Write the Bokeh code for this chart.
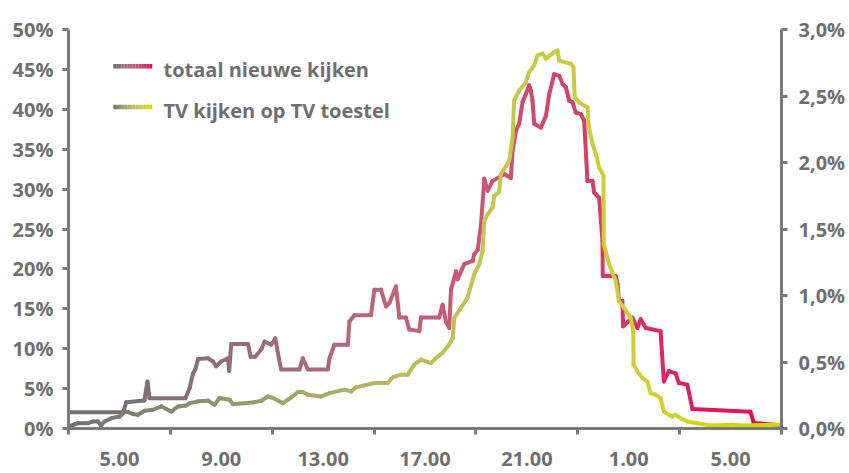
from bokeh.plotting import figure
from bokeh.models import Range1d, LinearAxis, FixedTicker, Label, ColumnDataSource
from bokeh.embed import file_html
from bokeh.resources import INLINE

# ---- data (hours since midnight of day 1; values > 24 belong to the next day) ----
series_names = ["totaal nieuwe kijken", "TV kijken op TV toestel"]

pink_hours = [3.00, 5.15, 5.27, 5.98, 6.10, 6.18, 7.59, 7.76, 7.89, 7.98,
              8.09, 8.48, 8.67, 8.80, 9.00, 9.26, 9.31, 9.39, 10.05, 10.15,
              10.33, 10.57, 10.70, 10.96, 11.12, 11.22, 11.35, 12.07, 12.20, 12.40,
              13.18, 13.25, 13.44, 13.97, 14.03, 14.23, 14.88, 15.01, 15.27, 15.47,
              15.60, 15.86, 15.99, 16.25, 16.38, 16.78, 16.84, 17.56, 17.69, 17.82,
              17.95, 18.02, 18.22, 18.28, 18.54, 18.87, 18.93, 19.07, 19.20, 19.33,
              19.46, 19.65, 20.11, 20.37, 20.44, 20.57, 20.70, 20.83, 20.96, 21.09,
              21.16, 21.22, 21.29, 21.55, 21.75, 21.88, 22.07, 22.27, 22.40, 22.53,
              22.66, 22.79, 22.92, 23.12, 23.25, 23.38, 23.58, 23.64, 23.84, 23.97,
              23.98, 24.49, 24.56, 24.62, 24.75, 24.78, 25.14, 25.34, 25.47, 25.67,
              26.25, 26.38, 26.58, 26.84, 26.97, 27.30, 27.50, 29.78, 29.91, 30.96]
pink_share = [2.05, 2.05, 3.3, 3.5, 5.9, 3.8, 3.8, 5.1, 6.9, 7.4,
              8.7, 8.8, 8.4, 7.8, 8.4, 8.8, 7.2, 10.6, 10.6, 9.0,
              9.0, 9.9, 10.9, 10.5, 11.3, 9.5, 7.4, 7.4, 8.8, 7.4,
              7.4, 8.8, 10.5, 10.5, 13.4, 14.2, 14.2, 17.4, 17.4, 15.3,
              15.7, 17.8, 13.9, 13.9, 12.4, 12.2, 13.9, 13.9, 15.5, 13.4,
              12.6, 17.4, 19.7, 18.7, 20.6, 21.0, 21.8, 22.4, 25.6, 31.3,
              29.8, 31.0, 31.9, 31.4, 34.8, 37.3, 38.2, 40.9, 41.9, 43.0,
              42.3, 41.1, 38.2, 37.7, 39.2, 41.9, 44.4, 44.2, 43.2, 42.8,
              41.1, 40.9, 39.6, 39.4, 38.6, 31.0, 31.0, 29.6, 28.9, 23.5,
              19.1, 19.1, 18.1, 16.0, 16.0, 12.8, 13.9, 12.6, 13.7, 12.6,
              12.2, 5.9, 7.2, 6.9, 5.7, 5.5, 2.45, 2.1, 0.7, 0.4]

yellow_hours = [3.00, 3.38, 3.77, 3.97, 4.16, 4.27, 4.42, 4.69, 5.01, 5.21,
                5.34, 5.54, 5.73, 5.99, 6.32, 6.65, 7.04, 7.30, 7.63, 7.76,
                8.09, 8.48, 8.74, 8.93, 9.33, 9.46, 10.31, 10.57, 10.83, 11.03,
                11.42, 11.75, 12.01, 12.20, 12.40, 12.92, 13.25, 13.84, 14.10, 14.29,
                14.62, 15.01, 15.54, 15.73, 16.06, 16.32, 16.58, 16.84, 17.24, 17.43,
                17.69, 17.95, 18.09, 18.15, 18.41, 18.67, 18.93, 19.13, 19.26, 19.33,
                19.46, 19.65, 19.72, 19.91, 19.98, 20.11, 20.31, 20.44, 20.50, 20.70,
                20.96, 21.09, 21.29, 21.42, 21.62, 21.75, 22.07, 22.20, 22.27, 22.46,
                22.73, 22.83, 22.88, 23.05, 23.25, 23.38, 23.44, 23.58, 23.71, 23.84,
                24.01, 24.02, 24.23, 24.49, 24.62, 24.82, 25.08, 25.18, 25.19, 25.34,
                25.54, 25.73, 25.86, 26.06, 26.25, 26.38, 26.58, 26.71, 26.84, 27.04,
                27.30, 27.69, 28.22, 29.13, 29.39, 30.96]
yellow_share = [0.015, 0.04, 0.04, 0.053, 0.053, 0.023, 0.053, 0.078, 0.09, 0.128,
                0.123, 0.108, 0.103, 0.133, 0.141, 0.166, 0.128, 0.166, 0.173, 0.191,
                0.204, 0.209, 0.179, 0.229, 0.216, 0.183, 0.198, 0.209, 0.241, 0.229,
                0.191, 0.234, 0.274, 0.274, 0.254, 0.241, 0.266, 0.292, 0.279, 0.309,
                0.324, 0.342, 0.342, 0.385, 0.405, 0.405, 0.48, 0.518, 0.492, 0.53,
                0.568, 0.631, 0.681, 0.832, 0.907, 0.983, 1.159, 1.235, 1.335, 1.561,
                1.612, 1.661, 1.75, 1.775, 1.913, 1.951, 2.014, 2.189, 2.466, 2.541,
                2.604, 2.679, 2.73, 2.805, 2.818, 2.781, 2.83, 2.843, 2.768, 2.755,
                2.743, 2.717, 2.491, 2.453, 2.428, 2.416, 2.265, 2.139, 2.064, 1.963,
                1.9, 1.385, 1.235, 1.109, 0.958, 0.907, 0.832, 0.731, 0.48, 0.43,
                0.379, 0.354, 0.266, 0.254, 0.229, 0.128, 0.103, 0.09, 0.103, 0.078,
                0.053, 0.04, 0.023, 0.028, 0.023, 0.028]

left_ticks = [0, 5, 10, 15, 20, 25, 30, 35, 40, 45, 50]
left_labels = ["0%", "5%", "10%", "15%", "20%", "25%", "30%", "35%", "40%", "45%", "50%"]
right_ticks = [0.0, 0.5, 1.0, 1.5, 2.0, 2.5, 3.0]
right_labels = ["0,0%", "0,5%", "1,0%", "1,5%", "2,0%", "2,5%", "3,0%"]
x_bounds = [3, 7, 11, 15, 19, 23, 27, 31]
x_label_pos = [5, 9, 13, 17, 21, 25, 29]
x_labels = ["5.00", "9.00", "13.00", "17.00", "21.00", "1.00", "5.00"]

# ---- style ----
GREY_TXT = "#6f6f6f"
AXIS_C = "#7a7a7a"
FONT = "Open Sans"
PINK_STOPS = [(0.0, (112, 112, 112)), (0.2, (140, 112, 122)), (0.45, (190, 100, 122)),
              (0.6, (206, 82, 112)), (0.78, (218, 52, 100)), (1.0, (228, 0, 92))]
YEL_STOPS = [(0.0, (112, 112, 112)), (0.2, (145, 145, 112)), (0.45, (184, 184, 98)),
             (0.6, (198, 198, 78)), (0.78, (207, 207, 56)), (1.0, (214, 214, 0))]


def mix(stops, t):
    t = min(max(t, 0.0), 1.0)
    for (t0, c0), (t1, c1) in zip(stops, stops[1:]):
        if t <= t1:
            f = (t - t0) / (t1 - t0)
            return "#%02x%02x%02x" % tuple(int(round(a + (b - a) * f)) for a, b in zip(c0, c1))
    return "#%02x%02x%02x" % stops[-1][1]


X0, X1 = x_bounds[0], x_bounds[-1]

p = figure(width=849, height=473, x_range=Range1d(X0, X1), y_range=Range1d(0, 50),
           x_axis_type=None, y_axis_type=None, output_backend="svg", toolbar_location=None,
           min_border_left=68, min_border_right=68, min_border_top=29, min_border_bottom=45)
p.extra_y_ranges = {"right": Range1d(0, 3)}
p.xgrid.visible = False
p.ygrid.visible = False
p.outline_line_color = None
p.background_fill_color = "white"
p.border_fill_color = "white"


def style_axis(ax):
    ax.axis_line_color = AXIS_C
    ax.axis_line_width = 3
    ax.major_tick_line_color = AXIS_C
    ax.major_tick_line_width = 3
    ax.minor_tick_line_color = AXIS_C
    ax.minor_tick_line_width = 3
    ax.major_label_text_font = FONT
    ax.major_label_text_font_size = "20px"
    ax.major_label_text_font_style = "bold"
    ax.major_label_text_color = GREY_TXT


# left axis
yl = LinearAxis(ticker=FixedTicker(ticks=left_ticks, minor_ticks=[]))
yl.major_label_overrides = dict(zip(left_ticks, left_labels))
style_axis(yl)
yl.major_tick_out = 6
yl.major_tick_in = 0
yl.major_label_standoff = 9
yl.major_label_text_baseline = "alphabetic"
p.add_layout(yl, "left")

# right axis
yr = LinearAxis(y_range_name="right", ticker=FixedTicker(ticks=right_ticks, minor_ticks=[]))
yr.major_label_overrides = dict(zip(right_ticks, right_labels))
style_axis(yr)
yr.major_tick_out = 6
yr.major_tick_in = 0
yr.major_label_standoff = 11
p.add_layout(yr, "right")

# bottom axis: visible ticks at interval bounds, labels centred between them
xb = LinearAxis(ticker=FixedTicker(ticks=x_label_pos, minor_ticks=x_bounds))
xb.major_label_overrides = dict(zip(x_label_pos, x_labels))
style_axis(xb)
xb.minor_tick_out = 6
xb.minor_tick_in = 0
xb.major_tick_out = 0
xb.major_tick_in = 0
xb.major_label_standoff = 17
p.add_layout(xb, "below")


def gradient_line(hours, vals, stops, range_name=None):
    x0, x1, y0, y1, cols = [], [], [], [], []
    for i in range(len(hours) - 1):
        x0.append(hours[i]); x1.append(hours[i + 1])
        y0.append(vals[i]); y1.append(vals[i + 1])
        cols.append(mix(stops, ((hours[i] + hours[i + 1]) / 2 - X0) / (X1 - X0)))
    src = ColumnDataSource(dict(x0=x0, x1=x1, y0=y0, y1=y1, c=cols))
    kw = {"y_range_name": range_name} if range_name else {}
    p.segment(x0="x0", y0="y0", x1="x1", y1="y1", line_color="c", line_width=4,
              line_cap="round", source=src, **kw)


gradient_line(pink_hours, pink_share, PINK_STOPS)
gradient_line(yellow_hours, yellow_share, YEL_STOPS, "right")

# legend with gradient swatches
leg_x0, leg_x1, leg_text_x = 4.76, 6.29, 6.73
for name, stops, ys, yt in [(series_names[0], PINK_STOPS, 45.4, 45.0),
                            (series_names[1], YEL_STOPS, 40.3, 39.9)]:
    n = 14
    xs = [leg_x0 + (leg_x1 - leg_x0) * k / n for k in range(n + 1)]
    p.segment(x0=xs[:-1], x1=xs[1:], y0=[ys] * n, y1=[ys] * n,
              line_color=[mix(stops, (k + 0.5) / n) for k in range(n)],
              line_width=4.5, line_cap="butt")
    p.add_layout(Label(x=leg_text_x, y=yt, text=name, text_align="left",
                       text_baseline="alphabetic", text_font=FONT, text_font_size="20px",
                       text_font_style="bold", text_color=GREY_TXT))

open("out.html", "w").write(file_html(p, INLINE))
